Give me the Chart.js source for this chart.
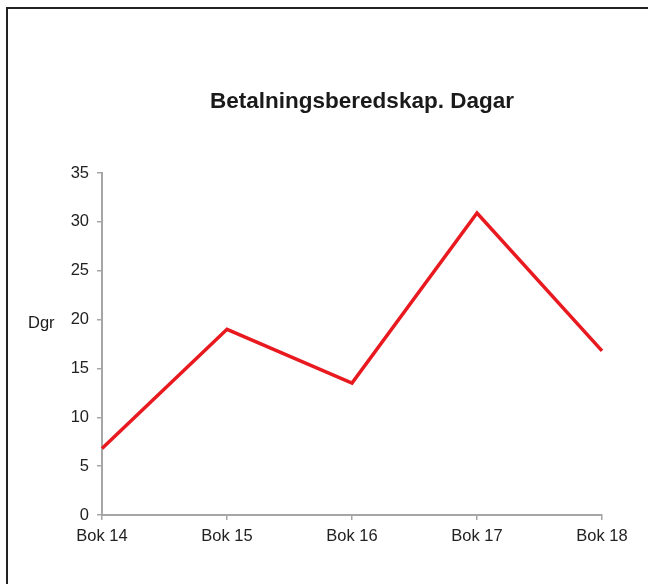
<!DOCTYPE html>
<html>
<head>
<meta charset="utf-8">
<script src="https://cdn.jsdelivr.net/npm/chart.js@4"></script>
<style>
    html, body { margin: 0; padding: 0; background: #fff; }
    #wrap { position: relative; width: 648px; height: 584px; overflow: hidden; }
    #frame {
        position: absolute; left: 6px; top: 7px; width: 700px; height: 700px;
        border-top: 2px solid #222; border-left: 2px solid #222;
    }
    canvas { position: absolute; left: 0; top: 0; }
</style>
</head>
<body>
<div id="wrap">
    <div id="frame"></div>
    <canvas id="mycanvas" width="648" height="584"></canvas>
</div>
<script>
var weeks = ['Bok 14', 'Bok 15', 'Bok 16', 'Bok 17', 'Bok 18'];
var days = [6.8, 19.0, 13.5, 30.9, 16.8];
var chartTitle = 'Betalningsberedskap. Dagar';
var yLabel = 'Dgr';

// title and the horizontal y-axis label
var textPlugin = {
    id: 'texts',
    afterDraw: function (chart) {
        var ctx = chart.ctx;
        ctx.save();
        ctx.fillStyle = '#1a1a1a';
        ctx.textBaseline = 'middle';
        ctx.textAlign = 'center';
        ctx.font = 'bold 22.5px "Liberation Sans", Arial, sans-serif';
        ctx.fillText(chartTitle, 362, 102);
        ctx.textAlign = 'left';
        ctx.font = '16.5px "Liberation Sans", Arial, sans-serif';
        ctx.fillText(yLabel, 28, 323);
        ctx.restore();
    }
};

var ctx = document.getElementById('mycanvas');

var lineGraph = new Chart(ctx, {
    type: 'line',
    data: {
        labels: weeks,
        datasets: [
            {
                label: 'Dagar',
                data: days,
                borderColor: '#e8191f',
                backgroundColor: '#e8191f',
                borderWidth: 3.5,
                pointRadius: 0,
                tension: 0,
                fill: false
            }
        ]
    },
    options: {
        responsive: false,
        animation: false,
        layout: {
            padding: { left: 42, right: 46, top: 173, bottom: 39 }
        },
        plugins: {
            legend: { display: false },
            title: { display: false },
            tooltip: { enabled: false }
        },
        scales: {
            x: {
                offset: false,
                afterFit: function (scale) { scale.height = 30; },
                grid: {
                    drawOnChartArea: false,
                    drawTicks: true,
                    tickLength: 5,
                    color: '#a6a6a6',
                    lineWidth: 1.5
                },
                border: { display: true, color: '#a6a6a6', width: 2 },
                ticks: {
                    color: '#222',
                    padding: 7,
                    maxRotation: 0,
                    font: { family: '"Liberation Sans", Arial, sans-serif', size: 16.5 }
                }
            },
            y: {
                min: 0,
                max: 35,
                afterFit: function (scale) { scale.width = 60; },
                grid: {
                    drawOnChartArea: false,
                    drawTicks: true,
                    tickLength: 5,
                    color: '#a6a6a6',
                    lineWidth: 1.5
                },
                border: { display: true, color: '#a6a6a6', width: 2 },
                ticks: {
                    stepSize: 5,
                    color: '#222',
                    padding: 8,
                    font: { family: '"Liberation Sans", Arial, sans-serif', size: 16.5 }
                }
            }
        }
    },
    plugins: [textPlugin]
});
</script>
</body>
</html>
